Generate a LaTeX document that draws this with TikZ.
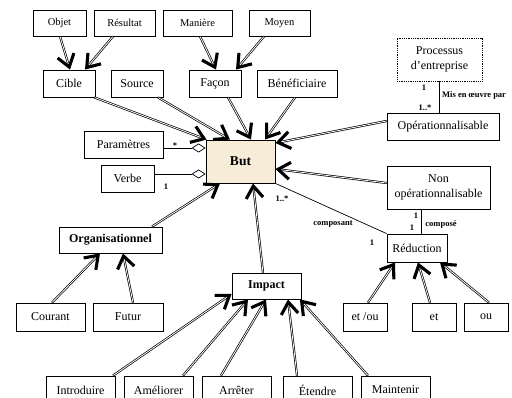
\documentclass[tikz,border=0pt]{standalone}
\usepackage{fontspec}
\setmainfont{Liberation Serif}
\usetikzlibrary{arrows.meta}
\definecolor{butfill}{RGB}{247,236,216}

\begin{document}
\begin{tikzpicture}[x=1pt,y=-1pt,
  box/.style={draw, line width=0.8pt, inner sep=0pt, minimum height=27pt,
    font=\fontsize{12}{14.5}\selectfont, align=center},
  small/.style={box, minimum height=26pt, font=\fontsize{10.5}{12}\selectfont},
  boldbox/.style={box, font=\bfseries\fontsize{12}{14.5}\selectfont},
  lbl/.style={font=\bfseries\fontsize{8.5}{10}\selectfont, inner sep=0pt},
  gen/.style={draw, line width=2.2pt,
    -{Straight Barb[length=12pt,width=17pt,line width=3.1pt]},
    postaction={draw=white, line width=0.8pt, arrows=-, shorten >=6pt, shorten <=0.5pt}},
  agg/.style={draw, line width=0.7pt,
    -{Diamond[fill=white,length=14pt,width=9pt,line width=0.7pt]}},
  assoc/.style={draw, line width=0.7pt}]

\path[use as bounding box] (0,0) rectangle (512,398);
\clip (0,0) rectangle (512,398);
\fill[white] (0,0) rectangle (512,398);

% top row
\node[small, minimum width=53pt] (objet) at (59.5,23) {Objet};
\node[small, minimum width=61pt] (resultat) at (124.5,23) {Résultat};
\node[small, minimum width=69pt] (maniere) at (197.5,23) {Manière};
\node[small, minimum width=61pt] (moyen) at (279.5,23) {Moyen};

% second row
\node[box, minimum width=52pt] (cible) at (69,83.5) {Cible};
\node[box, minimum width=52pt] (source) at (137,83.5) {Source};
\node[box, minimum width=52pt] (facon) at (215,83.5) {Façon};
\node[box, minimum width=80pt] (benef) at (297,83.5) {Bénéficiaire};
\node[box, densely dotted, minimum width=85pt, minimum height=43pt] (processus) at (439.5,59.5) {Processus\\d’entreprise};
\node[box, minimum width=112pt] (oper) at (443,126.5) {Opérationnalisable};

% central goal and its parts
\node[box, minimum width=79pt] (param) at (123.5,144.5) {Paramètres};
\node[box, minimum width=53pt] (verbe) at (127.5,178.5) {Verbe};
\node[box, fill=butfill, minimum width=69pt, minimum height=43pt,
  font=\bfseries\fontsize{13.5}{15}\selectfont] (but) at (240.5,161.5) {But};
\node[box, minimum width=103pt, minimum height=43pt] (nonoper) at (438.5,187.5) {Non\\opérationnalisable};

% lower levels
\node[boldbox, minimum width=103pt, minimum height=26pt] (organ) at (110.5,240) {Organisationnel};
\node[box, minimum width=60pt, minimum height=28pt] (reduction) at (417,248) {Réduction};
\node[boldbox, minimum width=69pt, minimum height=26pt] (impact) at (266.5,286) {Impact};
\node[box, minimum width=69pt, minimum height=28pt] (courant) at (50.5,317) {Courant};
\node[box, minimum width=70pt, minimum height=28pt] (futur) at (128,317) {Futur};
\node[box, minimum width=44pt, minimum height=28pt] (etou) at (365,317) {et /ou};
\node[box, minimum width=44pt, minimum height=28pt] (et) at (434,317) {et};
\node[box, minimum width=44pt, minimum height=28pt] (ou) at (486,317) {ou};

% bottom row
\node[box, minimum width=69pt, minimum height=28pt] (introduire) at (80.5,390) {Introduire};
\node[box, minimum width=69pt, minimum height=28pt] (ameliorer) at (158.5,390) {Améliorer};
\node[box, minimum width=69pt, minimum height=28pt] (arreter) at (236.5,390) {Arrêter};
\node[box, minimum width=69pt, minimum height=28pt] (etendre) at (317.5,390) {Étendre};
\node[box, minimum width=69pt, minimum height=28pt] (maintenir) at (395.5,390) {Maintenir};

% generalisation arrows
\draw[gen] ([xshift=0.5pt]objet.south) -- ([xshift=1pt]cible.north);
\draw[gen] ([xshift=-11.5pt]resultat.south) -- ([xshift=16pt]cible.north);
\draw[gen] ([xshift=2.5pt]maniere.south) -- ([xshift=1pt]facon.north);
\draw[gen] ([xshift=-15.5pt]moyen.south) -- ([xshift=21pt]facon.north);

\draw[gen] ([xshift=-1pt]cible.south east) -- ([xshift=1pt]but.north west);
\draw[gen] ([xshift=21pt]source.south) -- ([xshift=-10.5pt]but.north);
\draw[gen] ([xshift=13pt]facon.south) -- ([xshift=10.5pt]but.north);
\draw[gen] ([xshift=-2pt]benef.south) -- ([xshift=24.5pt]but.north);
\draw[gen] ([yshift=5.5pt]oper.west) -- ([yshift=18.5pt]but.east);
\draw[gen] ([yshift=4.5pt]nonoper.west) -- ([yshift=-7.5pt]but.east);
\draw[gen] ([xshift=41.5pt]organ.north) -- ([xshift=-20.5pt]but.south);
\draw[gen] ([xshift=-3.5pt]impact.north) -- ([xshift=12.5pt]but.south);

\draw[gen] ([xshift=1.5pt]courant.north) -- ([xshift=-10.5pt]organ.south);
\draw[gen] ([xshift=5pt]futur.north) -- ([xshift=12.5pt]organ.south);

\draw[gen] ([xshift=32.5pt]introduire.north) -- ([yshift=-8pt]impact.west);
\draw[gen] ([xshift=24.5pt]ameliorer.north) -- ([xshift=-18.5pt]impact.south);
\draw[gen] ([xshift=-15.5pt]arreter.north) -- ([xshift=-0.5pt]impact.south);
\draw[gen] ([xshift=-20.5pt]etendre.north) -- ([xshift=21.5pt]impact.south);
\draw[gen] ([xshift=-27.5pt]maintenir.north) -- ([xshift=-1.5pt]impact.south east);

\draw[gen] ([xshift=3pt]etou.north) -- ([xshift=-22pt]reduction.south);
\draw[gen] ([xshift=-4pt]et.north) -- ([xshift=1pt]reduction.south);
\draw[gen] ([xshift=3pt]ou.north) -- ([xshift=23pt]reduction.south);

% aggregations
\draw[agg] ([yshift=-3.5pt]param.east) -- ([yshift=13.5pt]but.west);
\draw[agg] ([yshift=4.5pt]verbe.east) -- ([yshift=-12.5pt]but.west);
\node[lbl] at (175,146) {*};
\node[lbl] at (166,187) {1};

% associations
\draw[assoc] (processus.south) -- (processus.south |- oper.north);
\node[lbl] at (424,88) {1};
\node[lbl, anchor=west] at (442,95) {Mis en œuvre par};
\node[lbl] at (425,108) {1..*};

\draw[assoc] (but.south east) -- (reduction.north west);
\node[lbl] at (282,199) {1..*};
\node[lbl] at (333,224) {composant};
\node[lbl] at (372,243) {1};

\draw[assoc] ([xshift=4pt]reduction.north) -- ([xshift=4pt]reduction.north |- nonoper.south);
\node[lbl] at (416,216) {1};
\node[lbl] at (412,228) {1};
\node[lbl] at (441,224) {composé};
\end{tikzpicture}
\end{document}
